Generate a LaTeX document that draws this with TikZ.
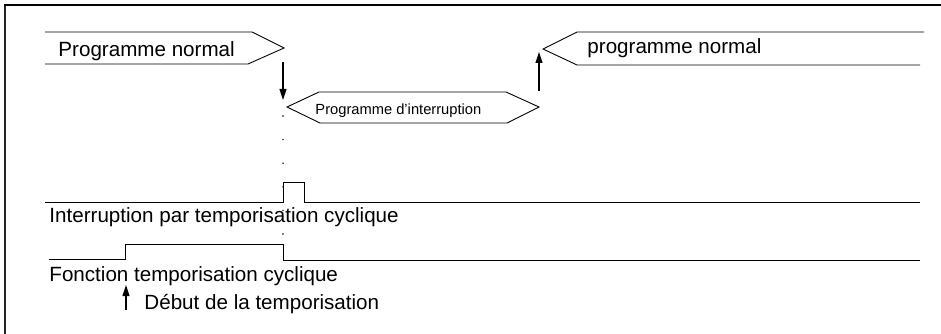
\documentclass[tikz,border=0pt]{standalone}
\usepackage{fontspec}
\setmainfont{Liberation Sans}
\usetikzlibrary{arrows.meta}
\begin{document}
\begin{tikzpicture}[x=1pt,y=-1pt,
  line width=0.9pt,
  lbl/.style={anchor=base west,inner sep=0pt,font=\fontsize{20.6}{24}\selectfont},
  slbl/.style={anchor=base west,inner sep=0pt,font=\fontsize{14.7}{17}\selectfont},
  arr/.style={-{Triangle[length=11pt,width=7pt]},line width=1.1pt},
  dotmark/.style={circle,fill=black,inner sep=0pt,minimum size=1.6pt}]
\useasboundingbox (0,0) rectangle (941,334);
% frame
\draw[line width=1.8pt,black!85] (5,334) -- (5,5);
\draw[line width=1.2pt] (4,5) -- (941,5);
% first normal program
\draw (45,32) -- (252,32) -- (284,48) coordinate (p1tip) -- (248,64) -- (45,64);
\node[lbl] (pn1) at (58,57) {Programme normal};
% interrupt program
\draw (287,107) coordinate (pil) -- (319,92) -- (506,92) -- (539,107) coordinate (pir) -- (507,123) -- (320,123) -- cycle;
\node[slbl] (pi) at (315,114) {Programme d’interruption};
% second normal program
\draw (924,32) -- (577,32) -- (543,49) coordinate (p2tip) -- (577,65) -- (920,65);
\node[lbl] (pn2) at (587,54) {programme normal};
% arrows
\coordinate (a1s) at (283,62);
\coordinate (a1e) at (283,100);
\draw[arr] (a1s) -- (a1e);
\coordinate (a2s) at (539,91);
\coordinate (a2e) at (539,52);
\draw[arr] (a2s) -- (a2e);
% dotted markers
\foreach \k in {0,...,5} {\node[dotmark] (d\k) at (283,116+23.6*\k) {};}
% interrupt signal
\draw (45,202) -- (283,202) -- (283,182) -- (304,182) -- (304,202) -- (920,202);
\node[lbl] (s1) at (49,222) {Interruption par temporisation cyclique};
% timer function signal
\draw (49,259) -- (125,259) -- (125,244) -- (283,244) -- (283,260) -- (920,260);
\node[lbl] (s2) at (49,281) {Fonction temporisation cyclique};
% start arrow
\coordinate (a3s) at (126,310);
\coordinate (a3e) at (126,285);
\draw[arr] (a3s) -- (a3e);
\node[lbl] (deb) at (144,309) {Début de la temporisation};
\end{tikzpicture}
\end{document}
